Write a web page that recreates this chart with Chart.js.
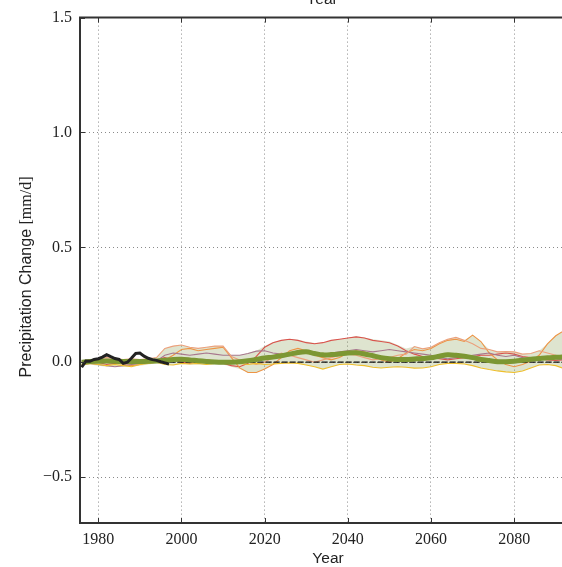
<!DOCTYPE html>
<html>
<head>
<meta charset="utf-8">
<script src="https://cdn.jsdelivr.net/npm/chart.js@4/dist/chart.umd.min.js"></script>
<style>
  html, body { margin: 0; padding: 0; background: #fff; overflow: hidden; }
  canvas { display: block; }
</style>
</head>
<body>
<canvas id="precipChart" width="562" height="567"></canvas>
<script>
// model years (2-yearly running values)
const years = [1976, 1978, 1980, 1982, 1984, 1986, 1988, 1990, 1992, 1994,
  1996, 1998, 2000, 2002, 2004, 2006, 2008, 2010, 2012, 2014,
  2016, 2018, 2020, 2022, 2024, 2026, 2028, 2030, 2032, 2034,
  2036, 2038, 2040, 2042, 2044, 2046, 2048, 2050, 2052, 2054,
  2056, 2058, 2060, 2062, 2064, 2066, 2068, 2070, 2072, 2074,
  2076, 2078, 2080, 2082, 2084, 2086, 2088, 2090, 2092]

// ensemble spread
const spreadUpper = [0.005, 0.01, 0.015, 0.02, 0.015, 0.012, 0.015, 0.012, 0.015, 0.02,
  0.06, 0.07, 0.075, 0.065, 0.06, 0.065, 0.07, 0.07, 0.03, 0.03,
  0.04, 0.05, 0.07, 0.088, 0.095, 0.1, 0.098, 0.09, 0.083, 0.085,
  0.095, 0.1, 0.105, 0.113, 0.108, 0.1, 0.095, 0.09, 0.075, 0.06,
  0.068, 0.058, 0.065, 0.085, 0.1, 0.108, 0.095, 0.118, 0.09, 0.055,
  0.045, 0.046, 0.045, 0.035, 0.038, 0.05, 0.08, 0.115, 0.138]
const spreadLower = [-0.015, -0.01, -0.015, -0.02, -0.02, -0.02, -0.02, -0.015, -0.01, -0.005,
  -0.01, -0.012, -0.008, -0.01, -0.01, -0.012, -0.01, -0.01, -0.02, -0.03,
  -0.045, -0.045, -0.03, -0.01, -0.005, -0.003, -0.005, -0.012, -0.02, -0.03,
  -0.02, -0.01, -0.008, -0.012, -0.015, -0.022, -0.025, -0.022, -0.02, -0.022,
  -0.026, -0.025, -0.02, -0.01, -0.005, -0.005, -0.008, -0.015, -0.025, -0.032,
  -0.038, -0.042, -0.045, -0.038, -0.025, -0.012, -0.01, -0.015, -0.028]

// single model runs
const runRed = [0.0, 0.005, 0.0, -0.01, -0.005, 0.0, 0.005, 0.0, 0.005, 0.01,
  0.02, 0.01, 0.0, -0.005, 0.005, 0.01, 0.005, -0.005, -0.015, -0.02,
  -0.005, 0.025, 0.065, 0.085, 0.095, 0.1, 0.095, 0.085, 0.08, 0.085,
  0.095, 0.1, 0.105, 0.11, 0.105, 0.095, 0.09, 0.085, 0.07, 0.05,
  0.035, 0.025, 0.02, 0.015, 0.01, 0.015, 0.02, 0.025, 0.03, 0.03,
  0.035, 0.04, 0.035, 0.025, 0.02, 0.015, 0.01, 0.008, 0.01]
const runOrange = [-0.01, -0.005, 0.005, 0.01, 0.0, -0.01, -0.015, -0.01, 0.0, 0.0,
  0.01, 0.03, 0.055, 0.06, 0.05, 0.055, 0.06, 0.065, 0.02, -0.025,
  -0.045, -0.045, -0.03, -0.01, 0.02, 0.05, 0.06, 0.05, 0.03, 0.02,
  0.01, 0.02, 0.04, 0.05, 0.045, 0.03, 0.01, 0.0, 0.015, 0.04,
  0.055, 0.05, 0.06, 0.08, 0.095, 0.1, 0.09, 0.118, 0.09, 0.04,
  0.01, -0.01, -0.02, -0.01, 0.005, 0.03, 0.08, 0.115, 0.138]
const runYellow = [-0.01, -0.005, -0.01, -0.015, -0.01, -0.015, -0.02, -0.01, -0.005, 0.0,
  -0.01, -0.012, -0.005, -0.008, -0.005, -0.01, -0.005, 0.0, 0.0, -0.005,
  -0.01, -0.005, -0.01, -0.008, -0.005, -0.003, -0.005, -0.012, -0.02, -0.03,
  -0.02, -0.01, -0.008, -0.012, -0.015, -0.022, -0.025, -0.022, -0.02, -0.022,
  -0.026, -0.025, -0.02, -0.01, -0.005, -0.005, -0.008, -0.015, -0.025, -0.032,
  -0.038, -0.042, -0.045, -0.038, -0.025, -0.012, -0.01, -0.015, -0.028]
const runMauve = [0.0, -0.005, -0.01, -0.015, -0.02, -0.015, -0.01, -0.005, 0.0, 0.005,
  0.03, 0.04, 0.035, 0.03, 0.035, 0.04, 0.035, 0.03, 0.03, 0.03,
  0.038, 0.048, 0.05, 0.04, 0.035, 0.04, 0.05, 0.045, 0.035, 0.03,
  0.04, 0.045, 0.05, 0.055, 0.05, 0.045, 0.05, 0.055, 0.05, 0.045,
  0.04, 0.035, 0.03, 0.02, 0.015, 0.02, 0.025, 0.03, 0.035, 0.04,
  0.03, 0.025, 0.03, 0.02, 0.01, 0.015, 0.02, 0.015, 0.01]
const runSalmon = [0.005, 0.01, 0.015, 0.02, 0.015, 0.012, 0.015, 0.012, 0.015, 0.02,
  0.06, 0.07, 0.075, 0.065, 0.06, 0.065, 0.07, 0.07, 0.025, 0.01,
  0.0, -0.01, 0.0, 0.02, 0.04, 0.03, 0.02, 0.01, 0.0, 0.01,
  0.02, 0.03, 0.035, 0.03, 0.02, 0.01, 0.015, 0.02, 0.03, 0.035,
  0.068, 0.058, 0.065, 0.085, 0.1, 0.108, 0.095, 0.08, 0.06, 0.055,
  0.045, 0.046, 0.045, 0.035, 0.038, 0.05, 0.04, 0.03, 0.02]

// ensemble mean
const ensembleMean = [0.0, 0.003, 0.004, 0.005, 0.004, 0.003, 0.002, 0.003, 0.004, 0.005,
  0.008, 0.012, 0.013, 0.01, 0.006, 0.003, 0.001, 0.0, 0.0, 0.002,
  0.006, 0.012, 0.018, 0.022, 0.028, 0.035, 0.042, 0.045, 0.038, 0.032,
  0.033, 0.036, 0.04, 0.041, 0.036, 0.028, 0.02, 0.015, 0.012, 0.012,
  0.014, 0.016, 0.019, 0.026, 0.032, 0.03, 0.026, 0.02, 0.012, 0.007,
  0.002, 0.002, 0.004, 0.008, 0.013, 0.016, 0.019, 0.021, 0.023]

// observations
const obsYears = [1976, 1977, 1978, 1979, 1980, 1981, 1982, 1983, 1984, 1985, 1986,
  1987, 1988, 1989, 1990, 1991, 1992, 1993, 1994, 1995, 1996, 1997]
const obsValues = [-0.022, 0.005, 0.004, 0.012, 0.015, 0.022, 0.033, 0.024, 0.016, 0.012, -0.005,
  0.0, 0.018, 0.038, 0.04, 0.026, 0.017, 0.011, 0.008, 0.002, -0.003, -0.008]

const xTicks = [1980, 2000, 2020, 2040, 2060, 2080]
const yTicks = [-0.5, 0.0, 0.5, 1.0, 1.5]

function toPoints(xs, ys) {
    return xs.map((x, i) => ({ x: x, y: ys[i] }))
}

function runLine(values, color) {
    return {
        data: toPoints(years, values),
        borderColor: color,
        borderWidth: 1.1,
        pointRadius: 0,
        fill: false,
        order: 5
    }
}

const serif = "'Liberation Serif', 'DejaVu Serif', serif"
const sans = "'Liberation Sans', Arial, sans-serif"

// spines, inward ticks and the axis labels
const framePlugin = {
    id: 'frame',
    afterDraw(chart) {
        const ctx = chart.ctx
        const area = chart.chartArea
        const xs = chart.scales.x
        const ys = chart.scales.y
        ctx.save()
        ctx.strokeStyle = '#333'
        ctx.lineWidth = 2
        ctx.beginPath()
        ctx.moveTo(area.left - 1, area.top)
        ctx.lineTo(area.right + 2, area.top)
        ctx.stroke()

        ctx.lineWidth = 1
        ctx.beginPath()
        xTicks.forEach((t) => {
            const px = Math.round(xs.getPixelForValue(t)) + 0.5
            ctx.moveTo(px, area.bottom)
            ctx.lineTo(px, area.bottom - 5)
            ctx.moveTo(px, area.top)
            ctx.lineTo(px, area.top + 5)
        })
        yTicks.forEach((t) => {
            const py = Math.round(ys.getPixelForValue(t)) + 0.5
            ctx.moveTo(area.left, py)
            ctx.lineTo(area.left + 5, py)
        })
        ctx.stroke()

        ctx.fillStyle = '#222'
        ctx.textAlign = 'center'
        ctx.textBaseline = 'alphabetic'
        ctx.font = '15.5px ' + sans
        ctx.fillText('Year', (area.left + area.right) / 2 + 1, 4)
        ctx.fillText('Year', (area.left + area.right) / 2 + 7, 563)

        // y title: sans words followed by a serif unit
        const part1 = 'Precipitation Change '
        const part2 = '[mm/d]'
        ctx.font = '16px ' + sans
        const w1 = ctx.measureText(part1).width
        ctx.font = '16px ' + serif
        const w2 = ctx.measureText(part2).width
        ctx.translate(31, 277)
        ctx.rotate(-Math.PI / 2)
        ctx.textAlign = 'left'
        let x0 = -(w1 + w2) / 2
        ctx.font = '16px ' + sans
        ctx.fillText(part1, x0, 0)
        ctx.font = '16px ' + serif
        ctx.fillText(part2, x0 + w1, 0)
        ctx.restore()
    }
}

const config = {
    type: 'line',
    data: {
        datasets: [
            {
                // lower edge of the spread
                data: toPoints(years, spreadLower),
                borderWidth: 0,
                pointRadius: 0,
                fill: false,
                order: 10
            },
            {
                data: toPoints(years, spreadUpper),
                borderWidth: 0,
                pointRadius: 0,
                fill: '-1',
                backgroundColor: 'rgba(128, 150, 70, 0.26)',
                order: 9
            },
            runLine(runYellow, '#efbf2c'),
            runLine(runSalmon, '#eca07c'),
            runLine(runMauve, '#a8778d'),
            runLine(runOrange, '#ee9445'),
            runLine(runRed, '#d9534c'),
            {
                // zero reference
                data: toPoints(years, years.map(() => 0)),
                borderColor: '#111',
                borderWidth: 1.2,
                borderDash: [6, 2],
                pointRadius: 0,
                fill: false,
                order: 3
            },
            {
                data: toPoints(years, ensembleMean),
                borderColor: '#7c9733',
                borderWidth: 5,
                pointRadius: 0,
                tension: 0.3,
                fill: false,
                order: 2
            },
            {
                data: toPoints(obsYears, obsValues),
                borderColor: '#222',
                borderWidth: 3,
                pointRadius: 0,
                fill: false,
                order: 1
            }
        ]
    },
    options: {
        responsive: false,
        animation: false,
        events: [],
        layout: { padding: { top: 15, right: 0, left: 0, bottom: 0 } },
        plugins: {
            legend: { display: false },
            tooltip: { enabled: false }
        },
        scales: {
            x: {
                type: 'linear',
                min: 1975.6,
                max: 2091.5,
                afterFit: (scale) => { scale.height = 44 },
                afterBuildTicks: (scale) => { scale.ticks = xTicks.map((v) => ({ value: v })) },
                grid: {
                    color: '#8a8a8a',
                    lineWidth: 1,
                    drawTicks: false
                },
                border: { display: true, color: '#333', width: 2, dash: [1, 3] },
                ticks: {
                    padding: 7,
                    color: '#222',
                    font: { family: serif, size: 16 },
                    callback: (v) => String(v)
                }
            },
            y: {
                type: 'linear',
                min: -0.7,
                max: 1.5,
                afterFit: (scale) => { scale.width = 80 },
                afterBuildTicks: (scale) => { scale.ticks = yTicks.map((v) => ({ value: v })) },
                grid: {
                    color: '#8a8a8a',
                    lineWidth: 1,
                    drawTicks: false
                },
                border: { display: true, color: '#333', width: 2, dash: [1, 3] },
                ticks: {
                    padding: 8,
                    color: '#222',
                    font: { family: serif, size: 16 },
                    callback: (v) => v.toFixed(1).replace('-', '\u2212')
                }
            }
        }
    },
    plugins: [framePlugin]
}

const ctx = document.getElementById('precipChart').getContext('2d')
new Chart(ctx, config)
</script>
</body>
</html>
